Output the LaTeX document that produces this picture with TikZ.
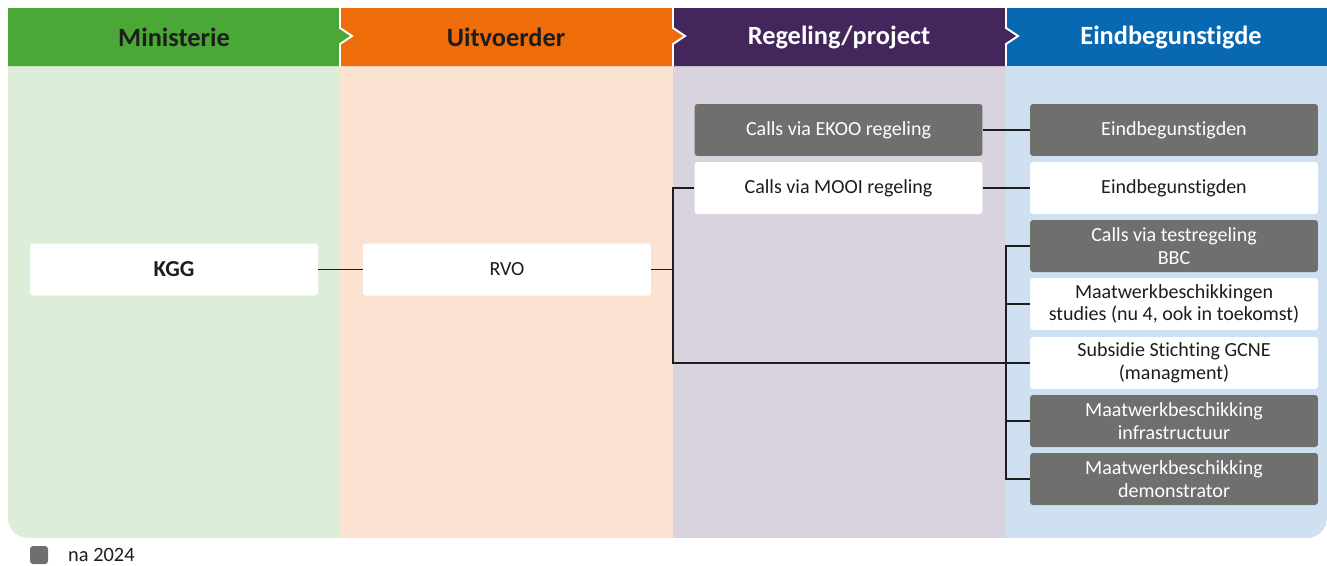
\documentclass[tikz,border=0pt]{standalone}
\usepackage{fontspec}
\setmainfont{Carlito}[Ligatures={CommonOff,ContextualOff,RequiredOff},Contextuals=AlternateOff]
\definecolor{minGreen}{HTML}{4AA837}
\definecolor{minLight}{HTML}{DCEDD8}
\definecolor{uitOrange}{HTML}{EE6C0A}
\definecolor{uitLight}{HTML}{FCE2D1}
\definecolor{regPurple}{HTML}{42265C}
\definecolor{regLight}{HTML}{D9D3E0}
\definecolor{eindBlue}{HTML}{0868B2}
\definecolor{eindLight}{HTML}{CFE1F0}
\definecolor{boxGrey}{HTML}{6F6F6E}
\definecolor{lineDark}{HTML}{1D1D1B}

\begin{document}
\begin{tikzpicture}[x=0.02cm,y=-0.02cm,
  box/.style={rounded corners=1.7pt,minimum width=5.76cm,minimum height=1.04cm,
    align=center,inner sep=0pt,font=\fontsize{11.4}{13}\selectfont},
  greybox/.style={box,fill=boxGrey,text=white},
  whitebox/.style={box,fill=white,text=lineDark},
  head/.style={font=\fontsize{15}{18}\selectfont\bfseries},
  conn/.style={draw=lineDark,line width=0.9pt}]
  \useasboundingbox (0,0) rectangle (1327,565);

  % column backgrounds
  \begin{scope}
    \clip[rounded corners=0.4cm] (8,30) rectangle (1327,538);
    \fill[minLight] (8,30) rectangle (340,538);
    \fill[uitLight] (340,30) rectangle (673,538);
    \fill[regLight] (673,30) rectangle (1006,538);
    \fill[eindLight] (1006,30) rectangle (1327,538);
  \end{scope}

  % header bar
  \fill[eindBlue] (1006,8) rectangle (1327,66);
  \foreach \xa/\xb/\c in {673/1006/regPurple,340/673/uitOrange,8/340/minGreen}
    \fill[\c] (\xa,8) -- (\xb,8) -- (\xb,28) -- (\xb+12,36) -- (\xb,44) -- (\xb,66) -- (\xa,66) -- cycle;
  \foreach \xb in {340,673,1006}
    \draw[white,line width=1.1pt] (\xb,8) -- (\xb,28) -- (\xb+12,36) -- (\xb,44) -- (\xb,66);
  \node[head,text=lineDark] (hmin) at (174,37) {Ministerie};
  \node[head,text=lineDark] (huit) at (506,37) {Uitvoerder};
  \node[head,text=white] (hreg) at (839,37) {Regeling/project};
  \node[head,text=white] (heind) at (1171,37) {Eindbegunstigde};

  % boxes
  \node[whitebox,font=\fontsize{13}{15}\selectfont\bfseries] (kgg) at (174,269.5) {KGG};
  \node[whitebox] (rvo) at (507,269.5) {RVO};
  \node[greybox] (ekoo) at (838.5,130) {Calls via EKOO regeling};
  \node[whitebox] (mooi) at (838.5,188) {Calls via MOOI regeling};
  \node[greybox] (eind1) at (1174,130) {Eindbegunstigden};
  \node[whitebox] (eind2) at (1174,188) {Eindbegunstigden};
  \node[greybox] (bbc) at (1174,246) {Calls via testregeling\\BBC};
  \node[whitebox] (studies) at (1174,304) {Maatwerkbeschikkingen\\studies (nu 4, ook in toekomst)};
  \node[whitebox] (gcne) at (1174,363) {Subsidie Stichting GCNE\\(managment)};
  \node[greybox] (infra) at (1174,421) {Maatwerkbeschikking\\infrastructuur};
  \node[greybox] (demo) at (1174,479) {Maatwerkbeschikking\\demonstrator};

  % connectors
  \coordinate (jr) at (673,0);
  \coordinate (jb) at (1006,0);
  \draw[conn] (kgg) -- (rvo);
  \draw[conn] (rvo.east) -- (rvo.east -| jr);
  \draw[conn] (mooi.west) -| (jr |- gcne.west) -- (gcne.west);
  \draw[conn] (ekoo) -- (eind1);
  \draw[conn] (mooi) -- (eind2);
  \draw[conn] (bbc.west) -| (jb |- demo.west) -- (demo.west);
  \draw[conn] (studies.west) -- (studies.west -| jb);
  \draw[conn] (infra.west) -- (infra.west -| jb);

  % legend
  \fill[boxGrey,rounded corners=1.7pt] (30,546) rectangle (48,564);
  \node[anchor=west,text=lineDark,font=\fontsize{11.6}{13}\selectfont] (legend) at (62,555) {na 2024};
\end{tikzpicture}
\end{document}
